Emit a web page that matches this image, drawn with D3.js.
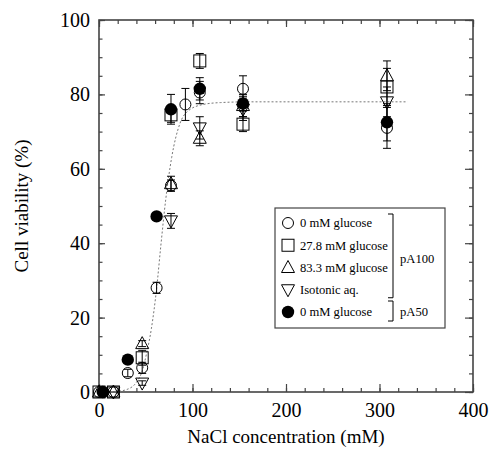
<!DOCTYPE html>
<html><head><meta charset="utf-8">
<script src="https://cdn.jsdelivr.net/npm/d3@7"></script>
<style>body{margin:0;background:#fff}svg{display:block}text{font-family:"Liberation Serif","Times New Roman",serif;fill:#000}</style>
</head><body>
<svg id="c" width="494" height="457"></svg>
<script>
// ---- data ----
const xTicks = [0, 100, 200, 300, 400];
const yTicks = [0, 20, 40, 60, 80, 100];

// 0 mM glucose (pA100) - open circle
const circX = [0, 15.4, 30.8, 46.2, 61.6, 77, 92.4, 107.8, 154, 308];
const circY = [0, 0, 5.1, 6.5, 28, 55.5, 77.3, 80.5, 81.5, 71];
const circE = [0, 0, 1, 1.5, 1.5, 1.5, 4.3, 3, 3.5, 5.5];
// 27.8 mM glucose - open square
const sqX = [0, 15.4, 46.2, 77, 107.8, 154, 308];
const sqY = [0, 0, 9.2, 74.5, 89, 72, 82];
const sqE = [0, 0, 2, 2, 2, 2, 5];
// 83.3 mM glucose - triangle up
const triX = [0, 15.4, 46.2, 77, 107.8, 154, 308];
const triY = [0, 0, 13, 56, 68.2, 77, 85];
const triE = [0, 0, 0.8, 2, 2, 3, 4];
// Isotonic aq. - triangle down
const invX = [15.4, 46.2, 77, 107.8, 154, 308];
const invY = [0, 2.4, 46, 71, 76, 78];
const invE = [0, 0.6, 2, 3, 3, 4];
// 0 mM glucose (pA50) - filled circle
const fillX = [4, 30.8, 61.6, 77, 107.8, 154, 308];
const fillY = [0, 8.7, 47.2, 76, 81.5, 77.5, 72.5];
const fillE = [0, 0.5, 0, 4, 3, 2, 5];

// dotted fit curve
const fitX = [0, 20, 30, 40, 46, 51, 56, 61.7, 66, 71.3, 77.7, 86.6, 95, 111.5, 130, 160, 330];
const fitY = [0, 0.2, 0.7, 2.6, 5.5, 10.5, 17, 28, 39, 51.6, 63, 72.2, 75.5, 77.3, 77.8, 78, 78];

const legendLabels = ["0 mM glucose", "27.8 mM glucose", "83.3 mM glucose", "Isotonic aq.", "0 mM glucose"];
const groupLabels = ["pA100", "pA50"];

// ---- chart ----
const svg = d3.select("#c");
const x = d3.scaleLinear().domain([0, 400]).range([99, 473]);
const y = d3.scaleLinear().domain([0, 100]).range([392, 20]);
const axisCol = "#444";

function styleAxis(g){ g.select(".domain").remove(); g.selectAll("line").attr("stroke", axisCol).attr("stroke-width", 1.2); g.selectAll("text").style("font-size","20px").style("font-family","Liberation Serif"); }

// minor ticks
svg.append("g").attr("transform","translate(0,392)").call(d3.axisBottom(x).tickValues(d3.range(0,401,20)).tickSize(-4).tickFormat("")).call(styleAxis);
svg.append("g").attr("transform","translate(0,20)").call(d3.axisTop(x).tickValues(d3.range(0,401,20)).tickSize(-4).tickFormat("")).call(styleAxis);
svg.append("g").attr("transform","translate(99,0)").call(d3.axisLeft(y).tickValues(d3.range(0,101,5)).tickSize(-3.5).tickFormat("")).call(styleAxis);
svg.append("g").attr("transform","translate(473,0)").call(d3.axisRight(y).tickValues(d3.range(0,101,5)).tickSize(-4).tickFormat("")).call(styleAxis);
// major ticks
svg.append("g").attr("transform","translate(0,392)").call(d3.axisBottom(x).tickValues(xTicks).tickSize(-8).tickPadding(11).tickFormat(d3.format("d"))).call(styleAxis);
svg.append("g").attr("transform","translate(0,20)").call(d3.axisTop(x).tickValues(xTicks).tickSize(-7).tickFormat("")).call(styleAxis);
svg.append("g").attr("transform","translate(99,0)").call(d3.axisLeft(y).tickValues(yTicks).tickSize(-6).tickPadding(9).tickFormat(d3.format("d"))).call(styleAxis);
svg.append("g").attr("transform","translate(473,0)").call(d3.axisRight(y).tickValues(yTicks).tickSize(-8).tickFormat("")).call(styleAxis);

// frame
svg.append("rect").attr("x",x(0)).attr("y",y(100)).attr("width",x(400)-x(0)).attr("height",y(0)-y(100))
  .attr("fill","none").attr("stroke",axisCol).attr("stroke-width",1.6);

// axis titles
svg.append("text").attr("x",(x(0)+x(400))/2).attr("y",443).attr("text-anchor","middle").style("font-size","19px").text("NaCl concentration (mM)");
svg.append("text").attr("transform",`translate(28,${(y(0)+y(100))/2}) rotate(-90)`).attr("text-anchor","middle").style("font-size","19px").text("Cell viability (%)");

// fit curve
const fit = fitX.map((d,i)=>[d, fitY[i]]);
svg.append("path").datum(fit).attr("fill","none").attr("stroke","#777").attr("stroke-width",1).attr("stroke-dasharray","2,2")
  .attr("d", d3.line().x(d=>x(d[0])).y(d=>y(d[1])).curve(d3.curveMonotoneX));

// symbols
function drawSym(g, type, cx, cy){
  if(type==="circle") g.append("circle").attr("cx",cx).attr("cy",cy).attr("r",5.5).attr("fill","none").attr("stroke","#000").attr("stroke-width",1);
  else if(type==="fill") g.append("circle").attr("cx",cx).attr("cy",cy).attr("r",6.2).attr("fill","#000");
  else if(type==="square") g.append("rect").attr("x",cx-6).attr("y",cy-6).attr("width",12).attr("height",12).attr("fill","none").attr("stroke","#000").attr("stroke-width",1);
  else if(type==="tri") g.append("path").attr("d",`M${cx},${cy-7}L${cx+6.5},${cy+5}L${cx-6.5},${cy+5}Z`).attr("fill","none").attr("stroke","#000").attr("stroke-width",1);
  else if(type==="inv") g.append("path").attr("d",`M${cx},${cy+7}L${cx+6.5},${cy-5}L${cx-6.5},${cy-5}Z`).attr("fill","none").attr("stroke","#000").attr("stroke-width",1);
}
function series(xs, ys, es, type){
  const g = svg.append("g");
  xs.forEach((xv,i)=>{
    const cx = x(xv), cy = y(ys[i]);
    if(es[i] > 0){
      const t = y(ys[i]+es[i]), b = y(ys[i]-es[i]);
      g.append("line").attr("x1",cx).attr("x2",cx).attr("y1",t).attr("y2",b).attr("stroke","#000").attr("stroke-width",1);
      [t,b].forEach(v=>g.append("line").attr("x1",cx-4).attr("x2",cx+4).attr("y1",v).attr("y2",v).attr("stroke","#000").attr("stroke-width",1));
    }
    drawSym(g, type, cx, cy);
  });
}
series(sqX, sqY, sqE, "square");
series(triX, triY, triE, "tri");
series(invX, invY, invE, "inv");
series(circX, circY, circE, "circle");
series(fillX, fillY, fillE, "fill");

// legend
const lg = svg.append("g");
lg.append("rect").attr("x",275).attr("y",208).attr("width",170).attr("height",120).attr("fill","#fff").attr("stroke",axisCol).attr("stroke-width",1.2);
const types = ["circle","square","tri","inv","fill"];
const rowY = d3.scaleLinear().domain([0,4]).range([223,312]);
legendLabels.forEach((lab,i)=>{
  drawSym(lg, types[i], 288, rowY(i));
  lg.append("text").attr("x",300).attr("y",rowY(i)).attr("dy","0.35em").style("font-size","12.6px").text(lab);
});
// brackets
const bx = 393;
lg.append("path").attr("d",`M${bx-5},${rowY(0)-9}H${bx}V${rowY(3)+8}H${bx-5}`).attr("fill","none").attr("stroke","#000").attr("stroke-width",1);
lg.append("path").attr("d",`M${bx-5},${rowY(4)-11}H${bx}V${rowY(4)+9}H${bx-5}`).attr("fill","none").attr("stroke","#000").attr("stroke-width",1);
lg.append("text").attr("x",400).attr("y",(rowY(0)+rowY(3))/2+2).attr("dy","0.35em").style("font-size","12.6px").text(groupLabels[0]);
lg.append("text").attr("x",400).attr("y",rowY(4)).attr("dy","0.35em").style("font-size","12.6px").text(groupLabels[1]);
</script>
</body></html>
